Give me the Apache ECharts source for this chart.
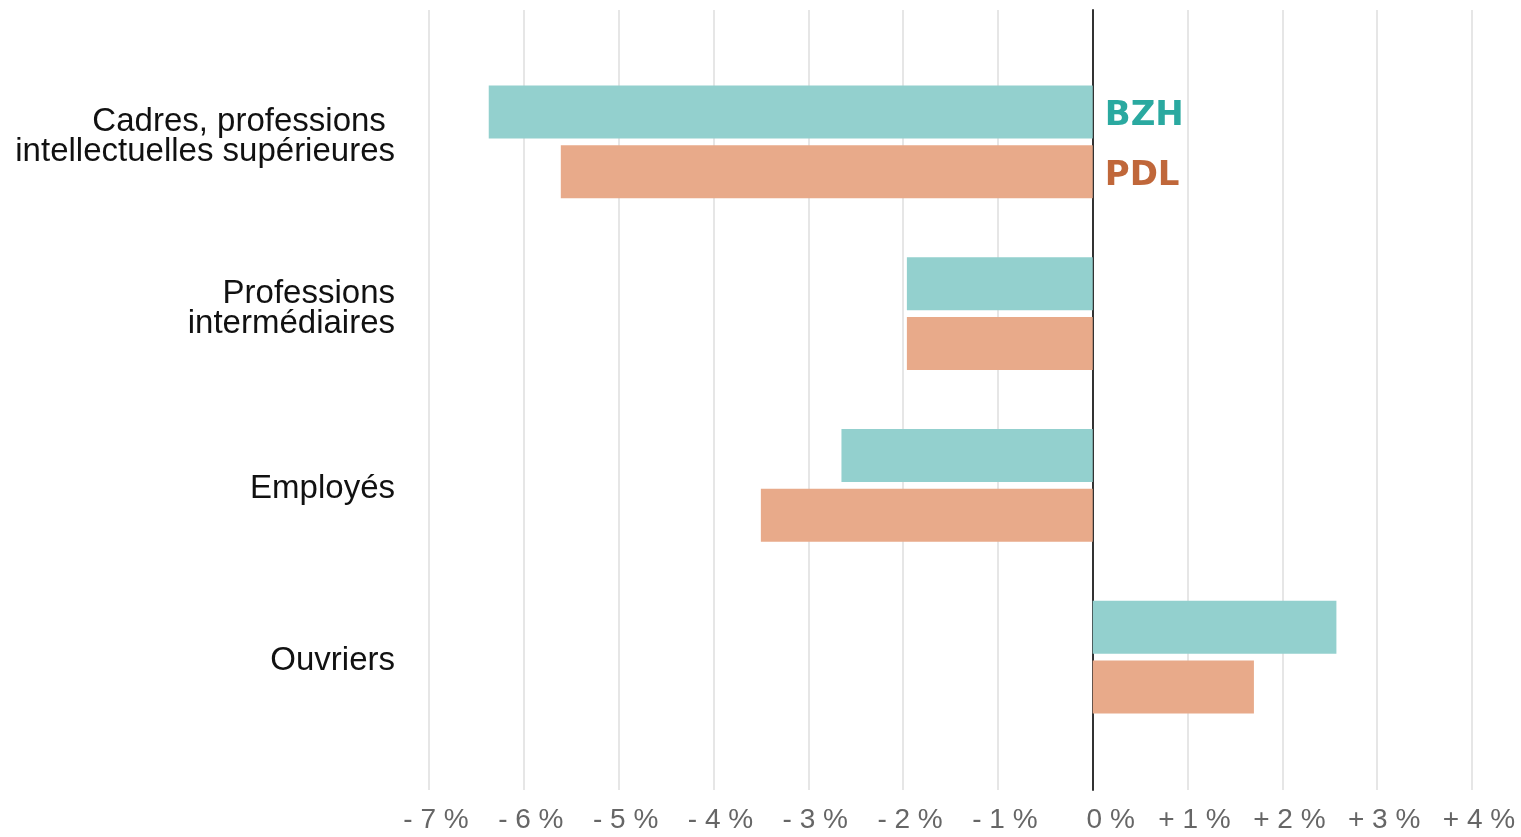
<!DOCTYPE html>
<html>
<head>
<meta charset="utf-8">
<script src="https://cdn.jsdelivr.net/npm/echarts@6/dist/echarts.min.js"></script>
<style>
  html, body { margin: 0; padding: 0; background: #fff; }
  #main { width: 1521px; height: 837px; }
</style>
</head>
<body>
<div id="main"></div>
<script>
// catégories socioprofessionnelles (du haut vers le bas)
const categories = [
  'Cadres, professions \nintellectuelles supérieures',
  'Professions\nintermédiaires',
  'Employés',
  'Ouvriers'
];
// évolution en points de %
const bzhValues = [-6.37, -1.96, -2.65, 2.57];
const pdlValues = [-5.61, -1.96, -3.50, 1.70];
const seriesNames = ['BZH', 'PDL'];

const chart = echarts.init(document.getElementById('main'));

function tickLabel(v) {
  if (v === 0) return '{z|0 %}';
  return (v > 0 ? '+ ' : '- ') + Math.abs(v) + ' %';
}

// les libellés sur deux lignes sont un peu remontés, les autres un peu descendus
function categoryLabel(value) {
  const lines = value.split('\n').map(l => '{t|' + l + '}');
  if (lines.length > 1) return lines.join('\n') + '\n{g1| }';
  return '{g2| }\n' + lines[0];
}

function withTag(values, tag, color) {
  return values.map((v, i) => i === 0 ? {
    value: v,
    label: {
      show: true,
      position: 'right',
      distance: 12,
      offset: [0, 4],
      formatter: tag,
      color: color,
      fontFamily: 'DejaVu Sans',
      fontWeight: 'bold',
      fontSize: 34
    }
  } : v);
}

chart.setOption({
  backgroundColor: '#fff',
  animation: false,
  grid: [
    { left: 429, right: 49, top: 10, bottom: 47 },
    { left: 429, right: 49, top: 56, bottom: 94 }
  ],
  xAxis: [
    {
      gridIndex: 0,
      type: 'value',
      min: -7, max: 4, interval: 1,
      axisLine: { show: false },
      axisTick: { show: false },
      splitLine: { show: true, lineStyle: { color: '#dedede', width: 1.5 } },
      axisLabel: {
        formatter: tickLabel,
        color: '#666',
        fontFamily: 'Liberation Sans',
        fontSize: 28,
        margin: 16,
        padding: [0, 0, 0, 14],
        rich: {
          z: { color: '#666', fontFamily: 'Liberation Sans', fontSize: 28, padding: [0, 0, 0, 22] }
        }
      }
    },
    {
      gridIndex: 1,
      type: 'value',
      min: -7, max: 4, interval: 1,
      show: false
    }
  ],
  yAxis: [
    {
      gridIndex: 0,
      type: 'value',
      min: 0, max: 1,
      axisLine: { show: true, onZero: true, lineStyle: { color: '#333', width: 2 } },
      axisTick: { show: false },
      axisLabel: { show: false },
      splitLine: { show: false }
    },
    {
      gridIndex: 1,
      type: 'category',
      inverse: true,
      data: categories,
      axisLine: { show: false },
      axisTick: { show: false },
      axisLabel: {
        formatter: categoryLabel,
        margin: 34,
        align: 'right',
        rich: {
          t: { color: '#111', fontFamily: 'Liberation Sans', fontSize: 33, lineHeight: 30, align: 'right' },
          g1: { fontSize: 6, lineHeight: 10 },
          g2: { fontSize: 6, lineHeight: 8 }
        }
      }
    }
  ],
  series: [
    {
      name: seriesNames[0],
      type: 'bar',
      xAxisIndex: 1,
      yAxisIndex: 1,
      data: withTag(bzhValues, seriesNames[0], '#2aa9a0'),
      barWidth: 53,
      barGap: '13%',
      itemStyle: { color: '#93d0ce' }
    },
    {
      name: seriesNames[1],
      type: 'bar',
      xAxisIndex: 1,
      yAxisIndex: 1,
      data: withTag(pdlValues, seriesNames[1], '#c0673a'),
      barWidth: 53,
      barGap: '13%',
      itemStyle: { color: '#e8aa8a' }
    }
  ]
});
</script>
</body>
</html>
